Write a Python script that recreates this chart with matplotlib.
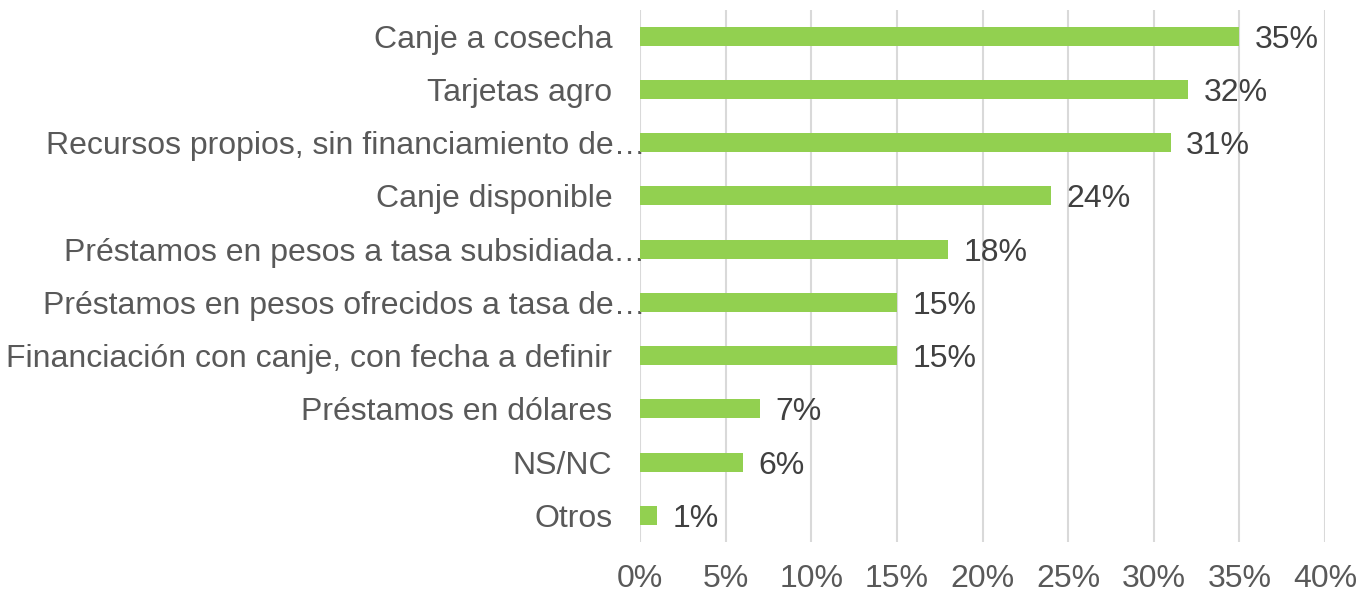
import numpy as np
import matplotlib.pyplot as plt

plt.rcParams['font.family'] = ['Liberation Sans', 'DejaVu Sans']

categories = [
    "Canje a cosecha",
    "Tarjetas agro",
    "Recursos propios, sin financiamiento de…",
    "Canje disponible",
    "Préstamos en pesos a tasa subsidiada…",
    "Préstamos en pesos ofrecidos a tasa de…",
    "Financiación con canje, con fecha a definir",
    "Préstamos en dólares",
    "NS/NC",
    "Otros",
]
values = [35, 32, 31, 24, 18, 15, 15, 7, 6, 1]
x_ticks = [0, 5, 10, 15, 20, 25, 30, 35, 40]

fig = plt.figure(figsize=(13.71, 5.94), dpi=100)
ax = fig.add_axes([0.4668, 0.0875, 0.4997, 0.8965])

y = np.arange(len(categories))
bars = ax.barh(y, values, height=0.36, color="#92D050", zorder=3)
labels = ax.bar_label(bars, labels=[f"{v}%" for v in values], padding=11,
                      fontsize=23, color="#404040")
for t in labels:
    t.set_verticalalignment("center_baseline")

ax.set_ylim(len(categories) - 0.5, -0.5)
ax.set_xlim(0, 40)
ax.set_yticks(y)
ax.set_yticklabels(categories, fontsize=23, color="#595959")
ax.set_xticks(x_ticks)
ax.set_xticklabels([f"{t}%" for t in x_ticks], fontsize=23, color="#595959")
ax.tick_params(axis="y", length=0, pad=20)
ax.tick_params(axis="x", length=0, pad=16)

# truncated labels run up to the axis in the original
for i, tick in enumerate(ax.yaxis.get_major_ticks()):
    if categories[i].endswith("…"):
        tick.set_pad(-4)

ax.grid(axis="x", color="#D9D9D9", linewidth=1.5, zorder=0)
for s in ax.spines.values():
    s.set_visible(False)

fig.savefig("out.png", dpi=100)
